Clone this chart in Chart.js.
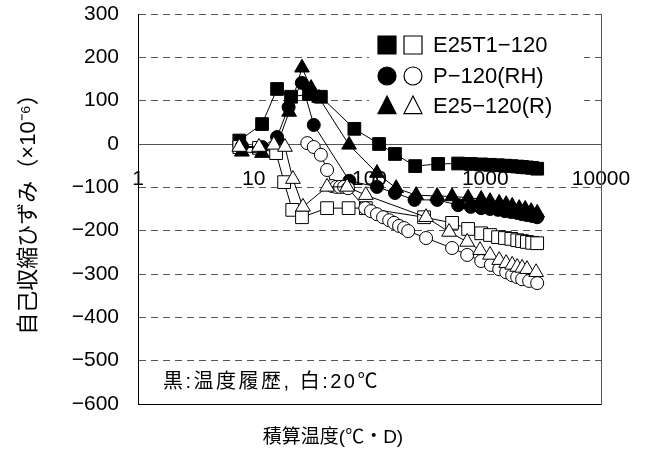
<!DOCTYPE html>
<html>
<head>
<meta charset="utf-8">
<script src="https://cdn.jsdelivr.net/npm/chart.js@4.4.1/dist/chart.umd.min.js"></script>
<style>
  html, body { margin: 0; padding: 0; background: #fff; }
  #wrap { width: 647px; height: 461px; }
</style>
</head>
<body>
<div id="wrap"><canvas id="shrinkChart" width="647" height="461"></canvas></div>
<script>
// Accumulated temperature (°C·D) and autogenous shrinkage (x10^-6)

// E25T1-120, temperature history (black squares)
const sqBlackX = [7.5, 11.8, 15.9, 21, 30, 38, 74, 121, 166, 248, 392, 583, 750, 922, 1100, 1290, 1480, 1680, 1890, 2080, 2290, 2540, 2810];
const sqBlackY = [8, 46, 127, 109, 115, 109, 35, 0, -23, -51, -46, -45, -46, -47, -48, -49, -50, -51, -52, -53, -54, -55, -57];

// E25T1-120, 20°C (white squares)
const sqWhiteX = [7.5, 11.1, 15.6, 18.3, 21.5, 26.1, 43, 66, 93, 296, 517, 711, 922, 1100, 1290, 1480, 1680, 1890, 2080, 2290, 2540, 2810];
const sqWhiteY = [-7, -9, -21, -88, -152, -169, -148, -148, -148, -169, -182, -196, -206, -210, -215, -217, -219, -222, -224, -226, -228, -229];

// P-120(RH), temperature history (black circles)
const ciBlackX = [7.9, 11.8, 15.9, 20, 26, 33, 67, 116, 166, 245, 384, 583, 750, 922, 1100, 1290, 1480, 1680, 1890, 2080, 2290, 2540, 2810];
const ciBlackY = [-5, -7, 16, 85, 141, 44, -85, -99, -113, -129, -129, -141, -145, -148, -150, -152, -155, -157, -159, -162, -164, -166, -169];

// P-120(RH), 20°C (white circles)
const ciWhiteX = [29, 33, 38, 43, 47.5, 51.5, 55.7, 60.3, 65.3, 92, 103, 116, 131, 148, 163, 180, 199, 216, 308, 517, 698, 922, 1120, 1320, 1516, 1708, 1887, 2083, 2394, 2810];
const ciWhiteY = [2, -7, -25, -60, -97, -99, -99, -99, -102, -148, -155, -162, -169, -176, -182, -189, -194, -201, -217, -240, -256, -270, -279, -289, -296, -303, -307, -312, -316, -321];

// E25-120(R), temperature history (black triangles)
const trBlackX = [7.9, 11.8, 16.5, 20.2, 26.1, 31.3, 36.7, 66.6, 116, 170, 253, 384, 517, 711, 922, 1100, 1320, 1516, 1709, 1965, 2213, 2494, 2811];
const trBlackY = [-18, -21, 9, 74, 176, 129, 106, -2, -67, -102, -118, -120, -121, -124, -127, -132, -136, -139, -143, -148, -150, -155, -159];

// E25-120(R), 20°C (white triangles)
const trWhiteX = [7.5, 11.1, 14.9, 18.6, 21.8, 26.6, 43, 64, 93, 308, 487, 698, 903, 1100, 1320, 1516, 1708, 1887, 2083, 2294, 2750];
const trWhiteY = [-7, -7, -2, -7, -81, -145, -99, -99, -118, -169, -203, -226, -245, -256, -268, -275, -279, -284, -286, -289, -296];

const xTickValues = [1, 10, 100, 1000, 10000];
const legendLabels = ['E25T1−120', 'P−120(RH)', 'E25−120(R)'];
const noteText = '黒:温度履歴, 白:20℃';
const xTitle = '積算温度(℃・D)';
const yTitle = '自己収縮ひずみ（×10⁻⁶）';

const FONT = "'Liberation Sans', 'Noto Sans CJK JP', sans-serif";

function toPoints(xs, ys) {
    return xs.map((x, i) => ({ x: x, y: ys[i] }));
}

function series(xs, ys, style, fill, radius) {
    return {
        data: toPoints(xs, ys),
        showLine: true,
        borderColor: '#000',
        borderWidth: 1,
        pointStyle: style,
        pointRadius: radius,
        pointBackgroundColor: fill,
        pointBorderColor: '#000',
        pointBorderWidth: 1
    };
}

// no extra label padding pushed into the chart area
function noPadding(scale) {
    scale.paddingTop = 0;
    scale.paddingBottom = 0;
    scale.paddingLeft = 0;
    scale.paddingRight = 0;
}

// Legend with a filled and an open marker per row, note text and x title
const extrasPlugin = {
    id: 'extras',
    afterDraw(chart) {
        const ctx = chart.ctx;
        const styles = ['rect', 'circle', 'triangle'];
        const rowsY = [45, 76, 106];

        function mark(style, x, y, size, fill) {
            ctx.beginPath();
            if (style === 'rect') {
                ctx.rect(x - size / 2, y - size / 2, size, size);
            } else if (style === 'circle') {
                ctx.arc(x, y, size / 2, 0, Math.PI * 2);
            } else {
                ctx.moveTo(x, y - size * 0.55);
                ctx.lineTo(x + size / 2, y + size * 0.42);
                ctx.lineTo(x - size / 2, y + size * 0.42);
                ctx.closePath();
            }
            ctx.fillStyle = fill;
            ctx.fill();
            ctx.lineWidth = 1.2;
            ctx.strokeStyle = '#000';
            ctx.stroke();
        }

        ctx.save();
        // legend box background hides the grid lines behind it
        ctx.fillStyle = '#fff';
        ctx.fillRect(369, 25, 215, 98);

        legendLabels.forEach((label, i) => {
            const y = rowsY[i];
            mark(styles[i], 387, y, 18, '#000');
            mark(styles[i], 413, y, 18, '#fff');
            ctx.fillStyle = '#000';
            ctx.font = '22px ' + FONT;
            ctx.textAlign = 'left';
            ctx.textBaseline = 'middle';
            ctx.fillText(label, 433, y + 1);
        });

        ctx.font = '20px ' + FONT;
        if ('letterSpacing' in ctx) ctx.letterSpacing = '2.5px';
        ctx.fillText(noteText, 163, 382);
        if ('letterSpacing' in ctx) ctx.letterSpacing = '0px';

        ctx.font = '19px ' + FONT;
        ctx.textAlign = 'center';
        ctx.fillText(xTitle, 333, 438);
        ctx.restore();
    }
};

const gridColor = ctx => {
    const v = ctx.tick && ctx.tick.value;
    if (v === 0 || v === -600) return 'rgba(0,0,0,0)';
    return '#555';
};

new Chart(document.getElementById('shrinkChart'), {
    type: 'scatter',
    data: {
        datasets: [
            series(trWhiteX, trWhiteY, 'triangle', '#fff', 8.5),
            series(trBlackX, trBlackY, 'triangle', '#000', 8.5),
            series(ciWhiteX, ciWhiteY, 'circle', '#fff', 6.5),
            series(ciBlackX, ciBlackY, 'circle', '#000', 6.5),
            series(sqWhiteX, sqWhiteY, 'rect', '#fff', 9),
            series(sqBlackX, sqBlackY, 'rect', '#000', 9)
        ]
    },
    options: {
        responsive: false,
        animation: false,
        devicePixelRatio: 1,
        layout: {
            padding: { left: 0, right: 46, top: 14, bottom: 0 }
        },
        plugins: {
            legend: { display: false },
            tooltip: { enabled: false }
        },
        scales: {
            x: {
                type: 'logarithmic',
                min: 1,
                max: 10000,
                position: { y: 0 },
                afterBuildTicks: scale => {
                    scale.ticks = xTickValues.map(v => ({ value: v }));
                },
                ticks: {
                    color: '#000',
                    padding: 23,
                    maxRotation: 0,
                    font: { family: FONT, size: 21 },
                    callback: value => String(value)
                },
                grid: { display: false, drawTicks: false },
                border: { display: true, color: '#555', width: 1 },
                afterFit: noPadding
            },
            x2: {
                type: 'logarithmic',
                min: 1,
                max: 10000,
                position: 'bottom',
                ticks: { display: false },
                grid: { display: false, drawTicks: false },
                border: { display: true, color: '#000', width: 1 },
                afterFit: scale => { noPadding(scale); scale.height = 57; }
            },
            y: {
                min: -600,
                max: 300,
                position: 'left',
                ticks: {
                    stepSize: 100,
                    color: '#000',
                    padding: 19,
                    font: { family: FONT, size: 21 },
                    callback: value => String(value).replace('-', '−')
                },
                grid: { color: gridColor, lineWidth: 1, drawTicks: false },
                border: { display: true, color: '#000', width: 1, dash: [7, 5] },
                title: {
                    display: true,
                    text: yTitle,
                    color: '#000',
                    font: { family: FONT, size: 22 },
                    padding: { top: 16, bottom: 0 }
                },
                afterFit: scale => { noPadding(scale); scale.width = 138; }
            },
            y2: {
                min: -600,
                max: 300,
                position: 'right',
                ticks: { display: false },
                grid: { display: false, drawTicks: false },
                border: { display: true, color: '#555', width: 1 },
                afterFit: scale => { noPadding(scale); scale.width = 0; }
            }
        }
    },
    plugins: [extrasPlugin]
});
</script>
</body>
</html>
